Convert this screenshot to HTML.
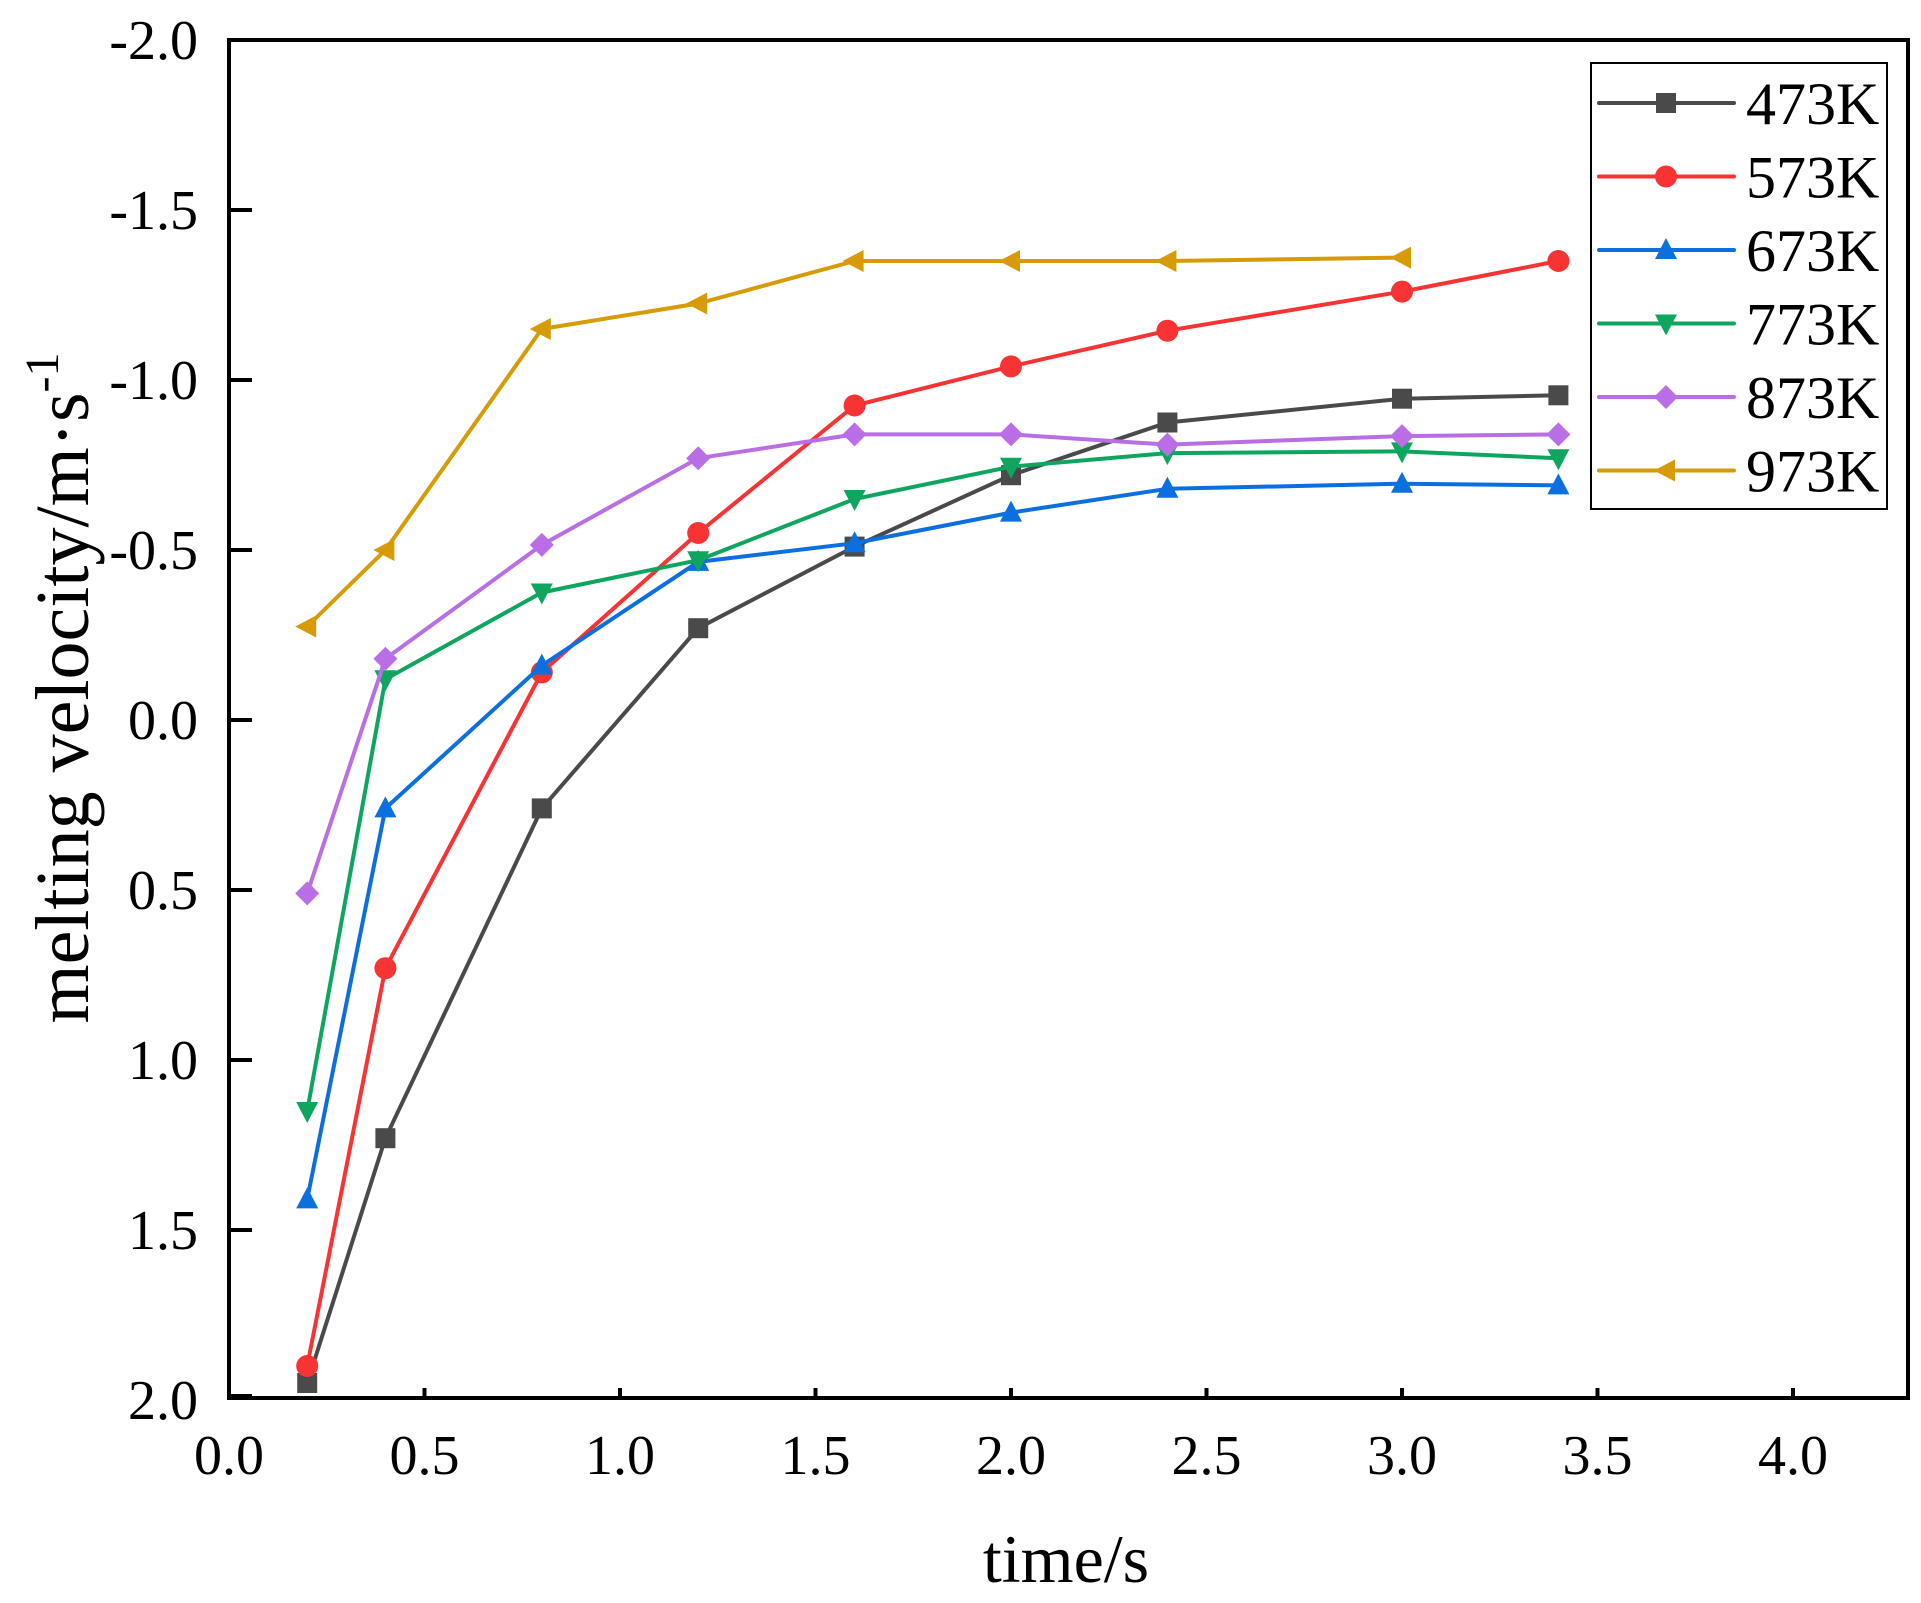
<!DOCTYPE html>
<html><head><meta charset="utf-8"><style>
html,body{margin:0;padding:0;background:#fff;}
svg{display:block;}
text{font-family:"Liberation Serif",serif;fill:#000;}
</style></head><body>
<svg id="s" width="1921" height="1603" viewBox="0 0 1921 1603" xmlns="http://www.w3.org/2000/svg">
<rect width="1921" height="1603" fill="#fff"/>
<g id="ticks"></g>
<g id="series"></g>
<rect x="229" y="40" width="1679" height="1358" fill="none" stroke="#000" stroke-width="4"/>
<text x="1066" y="1582" font-size="68" text-anchor="middle">time/s</text>
<text transform="translate(88,688) rotate(-90)" font-size="76" text-anchor="middle">melting velocity/m·s<tspan dy="-30" font-size="48">-1</tspan></text>
<rect x="1591" y="63" width="296" height="446" fill="#fff" stroke="#000" stroke-width="2"/>
<g id="legend"></g>
</svg>
<script>
var NS="http://www.w3.org/2000/svg";
function X(t){return 229+391*t;}
function Y(v){return 40+340*(v+2);}
function el(p,n,a,txt){var e=document.createElementNS(NS,n);for(var k in a)e.setAttribute(k,a[k]);if(txt!=null)e.textContent=txt;p.appendChild(e);return e;}
var tk=document.getElementById('ticks');
for(var i=0;i<=8;i++){var t=i*0.5;var x=X(t);
 if(i>0)el(tk,'line',{x1:x,y1:1398,x2:x,y2:1388,stroke:'#000','stroke-width':4});
 el(tk,'text',{x:x,y:1474,'font-size':56,'text-anchor':'middle'},t.toFixed(1));}
for(var i=0;i<=8;i++){var v=-2+i*0.5;var y=Y(v);
 if(i>0&&i<8)el(tk,'line',{x1:229,y1:y,x2:252,y2:y,stroke:'#000','stroke-width':4});
 if(i==8)el(tk,'line',{x1:229,y1:y-4,x2:252,y2:y-4,stroke:'#000','stroke-width':4});
 el(tk,'text',{x:198,y:y+19,'font-size':56,'text-anchor':'end'},v.toFixed(1));}
var T=[0.2,0.4,0.8,1.2,1.6,2.0,2.4,3.0,3.4];
var S=[
 {n:'473K',c:'#4a4a4a',m:'sq',d:[1.95,1.23,0.26,-0.27,-0.51,-0.72,-0.875,-0.945,-0.955]},
 {n:'573K',c:'#f73334',m:'ci',d:[1.9,0.73,-0.14,-0.55,-0.925,-1.04,-1.145,-1.26,-1.35]},
 {n:'673K',c:'#0b6fe0',m:'up',d:[1.41,0.26,-0.16,-0.465,-0.52,-0.61,-0.68,-0.695,-0.69]},
 {n:'773K',c:'#0ea65e',m:'dn',d:[1.15,-0.12,-0.375,-0.47,-0.65,-0.745,-0.785,-0.79,-0.77]},
 {n:'873K',c:'#b96ee6',m:'di',d:[0.51,-0.18,-0.515,-0.77,-0.84,-0.84,-0.81,-0.835,-0.84]},
 {n:'973K',c:'#d69b06',m:'le',d:[-0.275,-0.5,-1.15,-1.225,-1.35,-1.35,-1.35,-1.36]}
];
function mk(g,m,x,y,c){var r=10;
 if(m=='sq')el(g,'rect',{x:x-r,y:y-r,width:2*r,height:2*r,fill:c});
 else if(m=='ci')el(g,'circle',{cx:x,cy:y,r:r+1,fill:c});
 else{var p;
  if(m=='up')p=[[x,y-12],[x+11,y+9],[x-11,y+9]];
  if(m=='dn')p=[[x,y+12],[x+11,y-9],[x-11,y-9]];
  if(m=='di')p=[[x,y-12],[x+12,y],[x,y+12],[x-12,y]];
  if(m=='le')p=[[x-12,y],[x+9,y-11],[x+9,y+11]];
  el(g,'polygon',{points:p.map(function(a){return a.join(',')}).join(' '),fill:c});}}
var sg=document.getElementById('series'),lg=document.getElementById('legend');
S.forEach(function(s,k){
 var pts=s.d.map(function(v,i){return X(T[i])+','+Y(v);}).join(' ');
 el(sg,'polyline',{points:pts,fill:'none',stroke:s.c,'stroke-width':4,'stroke-linejoin':'round'});
 s.d.forEach(function(v,i){mk(sg,s.m,X(T[i]),Y(v),s.c);});
 var ly=103+73.5*k;
 el(lg,'line',{x1:1599,y1:ly,x2:1734,y2:ly,stroke:s.c,'stroke-width':4,'stroke-linecap':'round'});
 mk(lg,s.m,1666,ly,s.c);
 el(lg,'text',{x:1746,y:ly+21,'font-size':60},s.n);
});
</script>
</body></html>
